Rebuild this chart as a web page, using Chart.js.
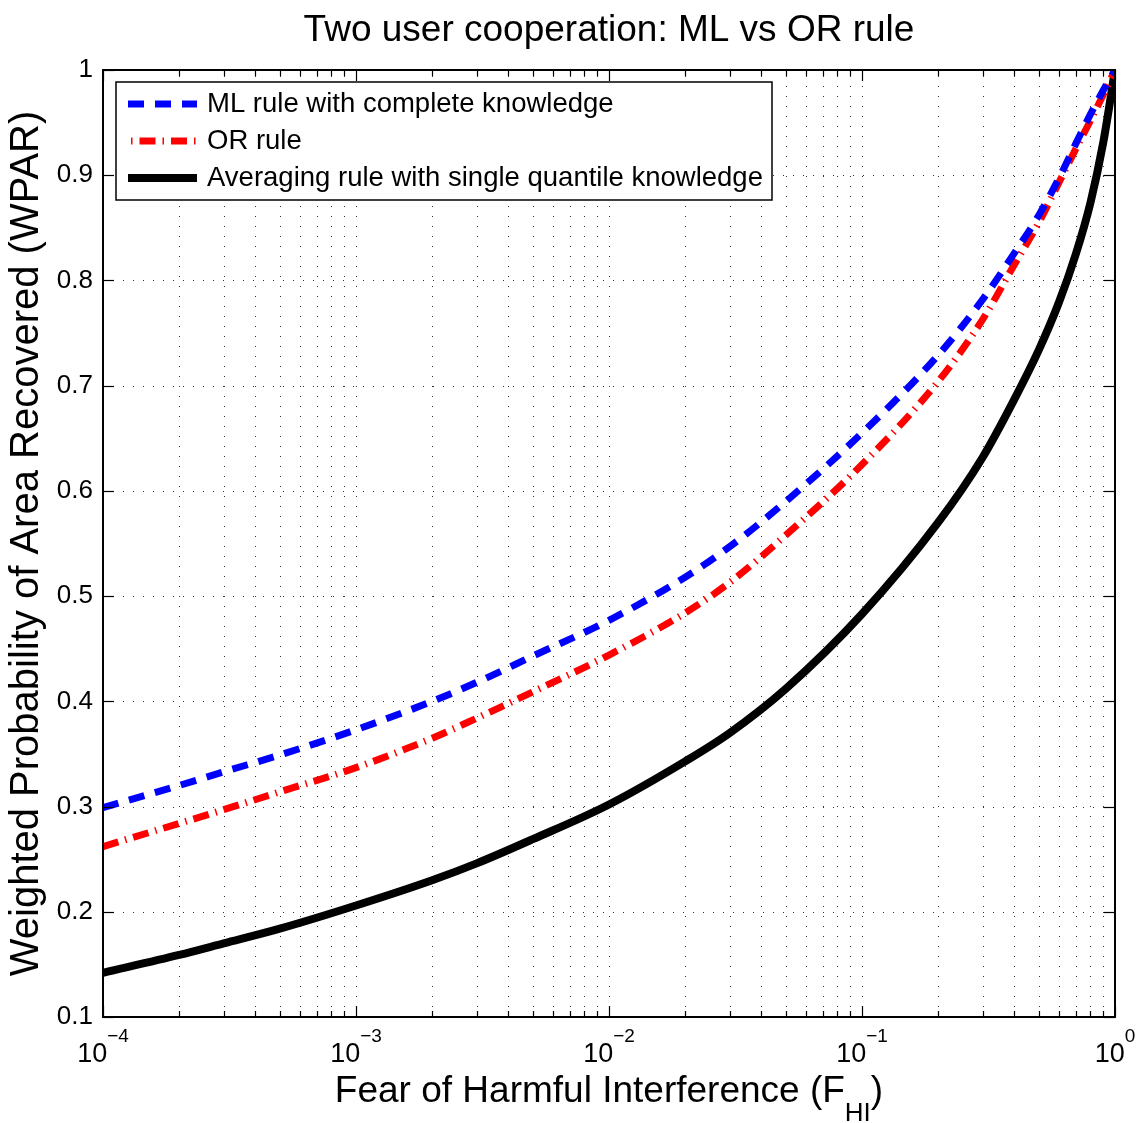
<!DOCTYPE html>
<html>
<head>
<meta charset="utf-8">
<script src="https://cdn.jsdelivr.net/npm/chart.js@4.4.0/dist/chart.umd.min.js"></script>
<style>
  html, body { margin: 0; padding: 0; background: #fff; }
</style>
</head>
<body>
<canvas id="wpar" width="1138" height="1123"></canvas>
<script>
// valores (F_HI em escala log)
var fhi = [1e-4, 2e-4, 3e-4, 5e-4, 1e-3, 2e-3, 3e-3, 5e-3, 1e-2, 2e-2, 3e-2, 5e-2, 0.1, 0.2, 0.3, 0.4, 0.5, 0.6, 0.7, 0.8, 0.9, 1];
var wparML = [0.299, 0.320, 0.333, 0.349, 0.373, 0.400, 0.418, 0.443, 0.477, 0.518, 0.547, 0.590, 0.655, 0.729, 0.782, 0.826, 0.862, 0.897, 0.930, 0.958, 0.981, 1.0];
var wparOR = [0.262, 0.284, 0.297, 0.314, 0.337, 0.365, 0.384, 0.409, 0.444, 0.484, 0.513, 0.558, 0.625, 0.704, 0.763, 0.815, 0.855, 0.893, 0.925, 0.952, 0.977, 1.0];
var wparMedia = [0.142, 0.159, 0.170, 0.184, 0.206, 0.230, 0.246, 0.269, 0.302, 0.343, 0.370, 0.412, 0.483, 0.570, 0.632, 0.687, 0.734, 0.779, 0.825, 0.874, 0.932, 1.0];

var rotulos = ['ML rule with complete knowledge', 'OR rule', 'Averaging rule with single quantile knowledge'];
var expoentesX = [-4, -3, -2, -1, 0];
var ticksY = [0.1, 0.2, 0.3, 0.4, 0.5, 0.6, 0.7, 0.8, 0.9, 1.0];

var fonte = '"Liberation Sans", Arial, Helvetica, sans-serif';
Chart.defaults.font.family = fonte;
Chart.defaults.color = '#000';

function pontos(ys) {
    return fhi.map(function (x, i) { return { x: x, y: ys[i] }; });
}

// grade menor do eixo log: 1..9 x 10^n
var gradeX = [];
expoentesX.forEach(function (e) {
    if (e === 0) { gradeX.push({ value: 1, major: true }); return; }
    for (var m = 1; m <= 9; m++) {
        gradeX.push({ value: m * Math.pow(10, e), major: m === 1 });
    }
});

function linhaH(ctx, x1, x2, y) { ctx.beginPath(); ctx.moveTo(x1, y); ctx.lineTo(x2, y); ctx.stroke(); }
function linhaV(ctx, x, y1, y2) { ctx.beginPath(); ctx.moveTo(x, y1); ctx.lineTo(x, y2); ctx.stroke(); }

var moldura = {
    id: 'moldura',
    beforeDatasetsDraw: function (chart) {
        var ctx = chart.ctx, a = chart.chartArea, sx = chart.scales.x, sy = chart.scales.y;
        ctx.save();
        ctx.strokeStyle = 'rgba(0,0,0,0.8)';
        ctx.lineWidth = 1;
        ctx.setLineDash([1, 9]);
        sx.ticks.forEach(function (t) {
            var px = Math.round(sx.getPixelForValue(t.value)) + 0.5;
            if (px > a.left + 2 && px < a.right - 2) linhaV(ctx, px, a.bottom, a.top);
        });
        sy.ticks.forEach(function (t) {
            var py = Math.round(sy.getPixelForValue(t.value)) + 0.5;
            if (py > a.top + 2 && py < a.bottom - 2) linhaH(ctx, a.left, a.right, py);
        });
        ctx.restore();
    },
    afterDatasetsDraw: function (chart) {
        var ctx = chart.ctx, a = chart.chartArea, sx = chart.scales.x, sy = chart.scales.y;
        ctx.save();
        ctx.strokeStyle = '#000';
        ctx.lineWidth = 2;
        ctx.setLineDash([]);
        ctx.strokeRect(a.left, a.top, a.right - a.left, a.bottom - a.top);
        ctx.lineWidth = 1.2;
        sx.ticks.forEach(function (t) {
            var px = Math.round(sx.getPixelForValue(t.value)) + 0.5;
            var len = t.major ? 11 : 6;
            linhaV(ctx, px, a.bottom, a.bottom - len);
            linhaV(ctx, px, a.top, a.top + len);
        });
        sy.ticks.forEach(function (t) {
            var py = Math.round(sy.getPixelForValue(t.value)) + 0.5;
            linhaH(ctx, a.left, a.left + 11, py);
            linhaH(ctx, a.right, a.right - 11, py);
        });

        // legenda dentro do gráfico
        var caixa = { x: 116, y: 82, w: 656, h: 118 };
        ctx.fillStyle = '#fff';
        ctx.fillRect(caixa.x, caixa.y, caixa.w, caixa.h);
        ctx.lineWidth = 1.5;
        ctx.strokeRect(caixa.x, caixa.y, caixa.w, caixa.h);
        chart.data.datasets.forEach(function (ds, i) {
            var yy = caixa.y + 22 + i * 37;
            ctx.save();
            ctx.strokeStyle = ds.borderColor;
            ctx.lineWidth = ds.borderWidth;
            ctx.setLineDash(ds.borderDash || []);
            ctx.lineDashOffset = ds.legendaOffset || 0;
            linhaH(ctx, caixa.x + 12, caixa.x + 81, yy);
            ctx.restore();
            ctx.fillStyle = '#000';
            ctx.font = '27.5px ' + fonte;
            ctx.textAlign = 'left';
            ctx.textBaseline = 'middle';
            ctx.fillText(ds.label, caixa.x + 91, yy);
        });
        ctx.restore();
    },
    afterDraw: function (chart) {
        var ctx = chart.ctx, a = chart.chartArea, sx = chart.scales.x;
        ctx.save();
        ctx.fillStyle = '#000';
        ctx.textAlign = 'left';
        ctx.textBaseline = 'alphabetic';
        // rótulos 10^n
        expoentesX.forEach(function (e) {
            var px = sx.getPixelForValue(Math.pow(10, e));
            var sup = e < 0 ? '\u2212' + (-e) : String(e);
            ctx.font = '27px ' + fonte;
            var w1 = ctx.measureText('10').width;
            ctx.font = '19px ' + fonte;
            var w2 = ctx.measureText(sup).width;
            var x0 = px - (w1 + w2) / 2;
            ctx.font = '27px ' + fonte;
            ctx.fillText('10', x0, a.bottom + 45);
            ctx.font = '19px ' + fonte;
            ctx.fillText(sup, x0 + w1, a.bottom + 25);
        });
        // título do eixo x com subscrito
        var t1 = 'Fear of Harmful Interference (F', t2 = 'HI', t3 = ')';
        ctx.font = '37px ' + fonte;
        var w1 = ctx.measureText(t1).width, w3 = ctx.measureText(t3).width;
        ctx.font = '26px ' + fonte;
        var w2 = ctx.measureText(t2).width;
        var x0 = (a.left + a.right) / 2 - (w1 + w2 + w3) / 2;
        var base = a.bottom + 85;
        ctx.font = '37px ' + fonte;
        ctx.fillText(t1, x0, base);
        ctx.font = '26px ' + fonte;
        ctx.fillText(t2, x0 + w1, base + 19);
        ctx.font = '37px ' + fonte;
        ctx.fillText(t3, x0 + w1 + w2, base);
        ctx.restore();
    }
};

var ctx = document.getElementById('wpar').getContext('2d');
var grafico = new Chart(ctx, {
    type: 'line',
    data: {
        datasets: [{
            label: rotulos[0],
            data: pontos(wparML),
            borderColor: '#0000ff',
            borderWidth: 7,
            borderDash: [16, 11],
            cubicInterpolationMode: 'monotone',
            pointRadius: 0,
            clip: 0
        }, {
            label: rotulos[1],
            data: pontos(wparOR),
            borderColor: '#ff0000',
            borderWidth: 7,
            borderDash: [16, 7, 1.5, 7],
            legendaOffset: 20,
            cubicInterpolationMode: 'monotone',
            pointRadius: 0,
            clip: 0
        }, {
            label: rotulos[2],
            data: pontos(wparMedia),
            borderColor: '#000000',
            borderWidth: 8,
            cubicInterpolationMode: 'monotone',
            pointRadius: 0,
            clip: 0
        }]
    },
    options: {
        responsive: false,
        animation: false,
        devicePixelRatio: 1,
        layout: { padding: { left: 0, right: 23, top: 0, bottom: 0 } },
        plugins: {
            legend: { display: false },
            tooltip: { enabled: false },
            title: {
                display: true,
                text: 'Two user cooperation: ML vs OR rule',
                fullSize: false,
                color: '#000',
                font: { size: 37, weight: 'normal' },
                padding: { top: 9, bottom: 16.6 }
            }
        },
        scales: {
            x: {
                type: 'logarithmic',
                min: 1e-4,
                max: 1,
                grid: { display: false, drawTicks: false },
                border: { display: false },
                ticks: { display: false },
                afterBuildTicks: function (scale) { scale.ticks = gradeX.map(function (t) { return { value: t.value, major: t.major }; }); },
                afterFit: function (scale) { scale.height = 106; }
            },
            y: {
                type: 'linear',
                min: 0.1,
                max: 1,
                grid: { display: false, drawTicks: false },
                border: { display: false },
                ticks: {
                    color: '#000',
                    padding: 10,
                    font: { size: 26 },
                    callback: function (v) { return v === 1 ? '1' : v.toFixed(1); }
                },
                afterBuildTicks: function (scale) { scale.ticks = ticksY.map(function (v) { return { value: v }; }); },
                afterFit: function (scale) { scale.width = 103; },
                title: {
                    display: true,
                    text: 'Weighted Probability of Area Recovered (WPAR)',
                    color: '#000',
                    font: { size: 40 },
                    padding: { top: 3, bottom: 0 }
                }
            }
        }
    },
    plugins: [moldura]
});
</script>
</body>
</html>
